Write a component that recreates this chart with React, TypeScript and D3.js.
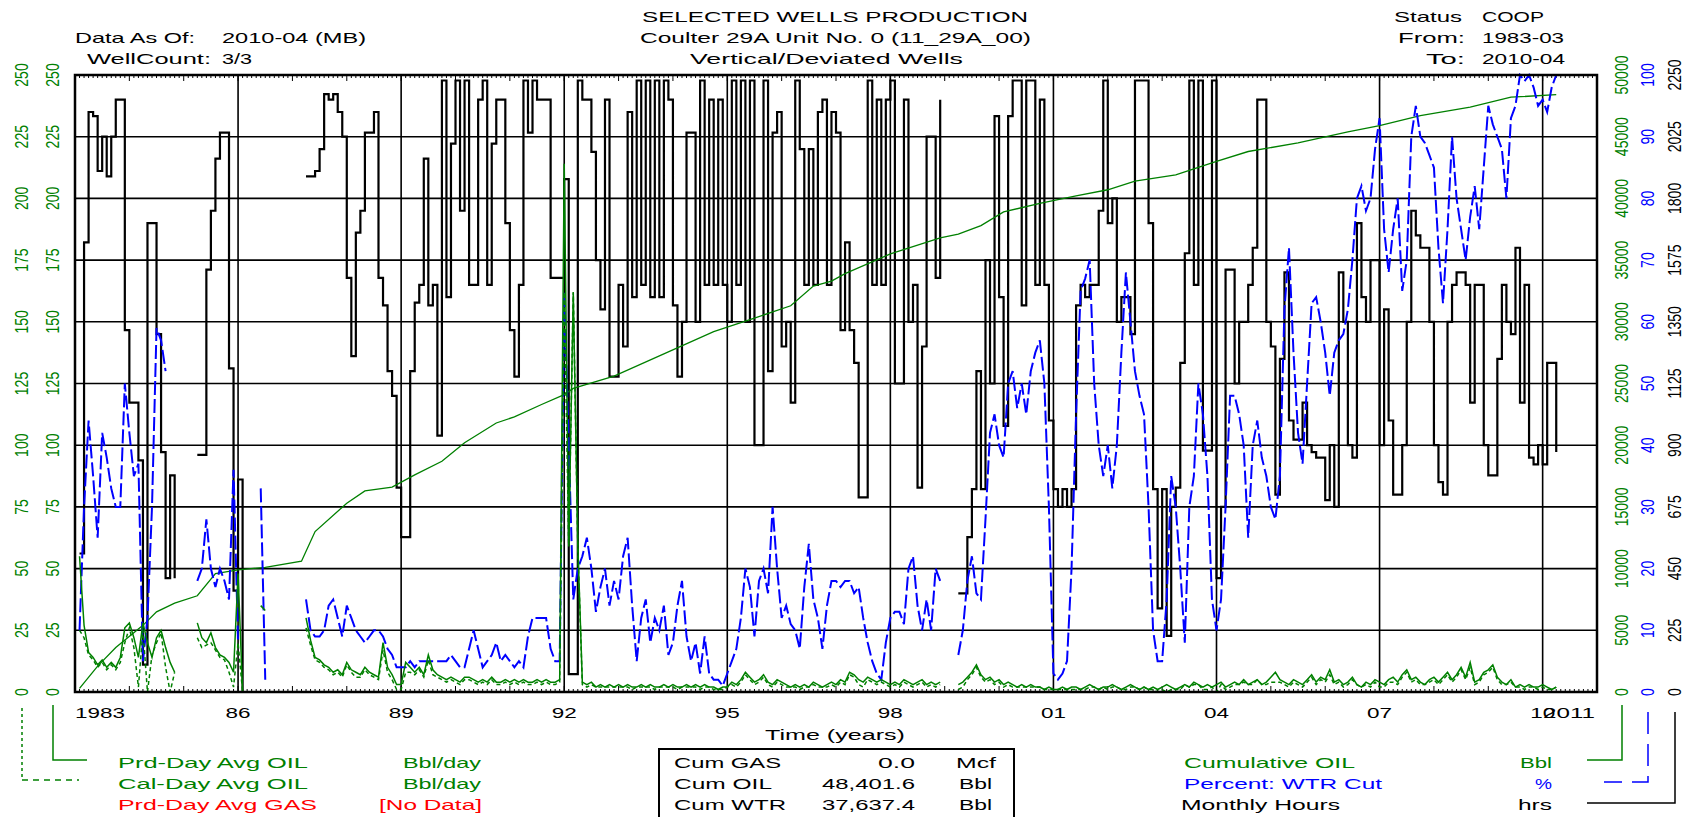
import React from 'react';
import * as d3 from 'd3';

// monthly series, first value is month 1 after Jan 1983
const FIRST_MONTH = 1;

// Monthly Hours (hrs), summed over 3 wells
const monthlyHours = [
  505, 1640, 2115, 2100, 1900, 2025, 1880, 2025, 2160, 2160,
  1320, 1055, 1055, 845, 100, 1710, 1710, 1305, 875, 415,
  790, 415, null, null, null, null, 865, 865, 1540, 1755,
  1945, 2040, 2040, 1180, 370, 775, 0, null, null, null,
  null, 360, null, null, null, null, null, null, null, null,
  1880, 1880, 1900, 1980, 2180, 2160, 2180, 2115, 2025, 1510,
  1225, 1675, 1755, 2040, 2040, 2115, 1510, 1410, 1170, 1080,
  745, 565, 565, 1170, 1420, 1485, 1945, 1410, 1485, 935,
  2230, 1440, 2000, 2230, 1755, 2230, 1485, 1485, 2160, 2230,
  1485, 2000, 2160, 2160, 1710, 1320, 1150, 1485, 2230, 2040,
  2230, 2160, 2160, 2160, 1510, 1510, 1510, 1870, 65, 65,
  2230, 2160, 2160, 1970, 1575, 1395, 2160, 1150, 1150, 1485,
  1260, 2115, 1440, 2230, 1485, 2230, 1440, 2230, 1440, 2230,
  2160, 1410, 1150, 1350, 2040, 2040, 1350, 2230, 1485, 2160,
  1485, 2160, 1485, 1350, 2230, 1485, 2230, 1350, 2230, 900,
  900, 2230, 1170, 2040, 2115, 1260, 1350, 1055, 2230, 1980,
  1485, 1980, 1485, 2115, 2160, 1485, 2115, 2040, 1320, 1640,
  1320, 1200, 710, 710, 2230, 1485, 2160, 1485, 2160, 2230,
  1125, 1125, 2160, 1350, 1485, 745, 1260, 2025, 2025, 1510,
  2160, null, null, null, 360, 360, 565, 740, 1170, 740,
  1575, 1125, 2100, 1440, 970, 2100, 2230, 2230, 1410, 2230,
  2230, 1485, 2160, 1485, 990, 740, 675, 740, 675, 740,
  1410, 1485, 1440, 1485, 1485, 1755, 2230, 1710, 1800, 1350,
  1440, 1440, 1305, 2230, 2230, 2230, 1710, 740, 305, 740,
  205, 675, 745, 1200, 1600, 2230, 1485, 2230, 880, 880,
  2230, 415, 675, 1540, 1540, 1125, 1350, 1350, 1485, 1620,
  2160, 2160, 1350, 1260, 720, 1215, 1530, 990, 920, 920,
  1055, 900, 875, 855, 855, 700, 900, 675, 1530, 1350,
  900, 855, 1710, 1440, 1350, 1575, 1575, 900, 1395, 990,
  720, 720, 900, 1350, 1755, 1665, 1620, 1620, 1350, 900,
  765, 720, 1350, 1485, 1530, 1530, 1485, 1055, 1485, 1485,
  900, 790, 790, 1215, 1485, 1350, 1305, 1620, 1055, 1485,
  855, 830, 900, 830, 1200, 1200, 875,
];

// Percent: WTR Cut (%)
const waterCut = [
  10, 30, 44, 35, 25, 42, 38, 33, 30, 30,
  50, 42, 35, 37, 5, 12, 30, 59, 57, 52,
  null, null, null, null, null, null, 18, 20, 28, 20,
  17, 20, 18, 15, 36, 8, null, null, null, null,
  33, 2, null, null, null, null, null, null, null, null,
  15, 10, 9, 9, 10, 14, 15, 12, 9, 14,
  12, 10, 9, 8, 9, 10, 10, 9, 7, 6,
  4, 4, 4, 5, 4, 5, 5, 5, 5, 5,
  5, 5, 6, 5, 4, 4, 7, 10, 7, 4,
  5, 6, 8, 5, 6, 5, 4, 5, 4, 9,
  12, 12, 12, 12, 7, 5, 5, 65, 40, 15,
  20, 22, 25, 20, 13, 17, 20, 14, 18, 15,
  22, 25, 14, 5, 12, 15, 8, 12, 10, 14,
  6, 8, 14, 18, 9, 5, 8, 3, 9, 3,
  2, 2, 1, 3, 5, 7, 12, 20, 17, 9,
  18, 20, 16, 30, 20, 12, 14, 11, 10, 7,
  17, 24, 15, 12, 7, 14, 18, 18, 17, 18,
  18, 16, 17, 12, 8, 5, 3, 2, 8, 12,
  13, 13, 11, 20, 22, 14, 10, 15, 10, 20,
  18, null, null, null, 6, 10, 18, 22, 16, 15,
  28, 42, 45, 40, 38, 50, 52, 46, 50, 45,
  52, 55, 57, 50, 30, 3, 2, 3, 5, 20,
  45, 65, 67, 70, 50, 40, 35, 40, 33, 40,
  55, 68, 60, 52, 48, 45, 30, 10, 5, 5,
  15, 35, 30, 20, 8, 30, 35, 50, 45, 35,
  15, 10, 15, 30, 48, 48, 45, 40, 25, 40,
  44, 38, 35, 30, 28, 35, 62, 72, 55, 42,
  37, 50, 63, 64, 60, 55, 48, 55, 57, 58,
  62, 70, 80, 82, 78, 80, 88, 93, 75, 68,
  75, 80, 65, 70, 90, 95, 90, 89, 87, 85,
  72, 63, 75, 90, 80, 75, 70, 77, 82, 75,
  85, 95, 92, 90, 88, 80, 93, 95, 100, 99,
  100, 98, 95, 96, 94, 98, 100,
];

// Prd-Day Avg OIL (Bbl/day)
const prdDayOil = [
  55, 27, 16, 14, 11, 13, 10, 12, 10, 14,
  26, 28, 22, 14, 28, 20, 14, 22, 25, 18,
  12, 8, null, null, null, null, 28, 22, 20, 24,
  18, 15, 14, 12, 8, 48, 0, null, null, null,
  35, 33, null, null, null, null, null, null, null, null,
  30, 21, 14, 13, 11, 10, 8, 9, 7, 12,
  9, 8, 7, 10, 8, 7, 6, 20, 10, 7,
  3, 3, 12, 10, 8, 10, 7, 15, 9, 7,
  6, 5, 6, 5, 4, 6, 6, 5, 4, 5,
  4, 6, 4, 4, 5, 4, 5, 4, 5, 4,
  4, 5, 4, 5, 4, 4, 5, 214, 60, 162,
  60, 4, 3, 4, 2, 3, 2, 3, 2, 3,
  2, 3, 2, 2, 3, 2, 3, 2, 2, 3,
  2, 3, 2, 2, 3, 2, 3, 2, 3, 2,
  2, 1, 2, 2, 4, 3, 5, 8, 6, 4,
  5, 7, 4, 3, 5, 4, 3, 2, 3, 2,
  3, 2, 4, 3, 2, 3, 4, 3, 5, 4,
  8, 7, 5, 4, 6, 5, 4, 5, 4, 3,
  4, 3, 5, 4, 3, 4, 5, 3, 4, 3,
  4, null, null, null, 3, 4, 6, 8, 11, 7,
  5, 6, 4, 5, 3, 4, 3, 2, 3, 2,
  3, 2, 2, 1, 2, 1, 1, 2, 1, 2,
  2, 1, 2, 3, 2, 1, 2, 2, 3, 2,
  1, 2, 3, 2, 1, 2, 1, 2, 1, 2,
  3, 2, 1, 2, 3, 2, 4, 3, 2, 3,
  2, 3, 4, 2, 3, 4, 3, 5, 3, 4,
  5, 3, 4, 6, 8, 5, 4, 3, 5, 4,
  3, 5, 7, 4, 6, 5, 9, 4, 5, 3,
  4, 6, 3, 2, 4, 3, 5, 4, 3, 5,
  6, 4, 7, 9, 5, 6, 4, 3, 5, 6,
  4, 6, 8, 5, 7, 10, 6, 12, 4, 5,
  8, 9, 11, 6, 4, 3, 5, 2, 3, 2,
  3, 2, 2, 3, 2, 1, 2,
];

// Cal-Day Avg OIL (Bbl/day)
const calDayOil = [
  25, 22, 15, 13, 10, 12, 9, 11, 9, 12,
  20, 26, 18, 2, 25, 0, 15, 20, 24, 10,
  0, 8, null, null, null, null, 22, 18, 19, 20,
  17, 14, 13, 8, 2, 20, 0, null, null, null,
  null, null, null, null, null, null, null, null, null, null,
  26, 19, 13, 12, 10, 9, 7, 8, 6, 11,
  8, 6, 6, 9, 7, 6, 5, 17, 8, 5,
  1, 1, 8, 8, 7, 9, 6, 13, 7, 6,
  5, 4, 5, 4, 3, 5, 5, 4, 3, 4,
  3, 5, 3, 3, 4, 3, 4, 3, 4, 3,
  3, 4, 3, 4, 3, 3, 4, 162, 59, 162,
  59, 3, 2, 3, 2, 2, 2, 2, 2, 2,
  2, 2, 1, 2, 2, 2, 2, 1, 2, 2,
  2, 2, 1, 2, 2, 2, 2, 1, 2, 2,
  1, 1, 1, 2, 3, 2, 4, 7, 5, 3,
  4, 6, 3, 2, 4, 3, 2, 2, 2, 1,
  2, 2, 3, 2, 2, 2, 3, 2, 4, 3,
  7, 6, 3, 2, 5, 4, 3, 4, 3, 2,
  3, 2, 4, 3, 2, 3, 4, 2, 3, 2,
  3, null, null, null, 1, 2, 5, 7, 10, 6,
  4, 5, 3, 4, 2, 3, 2, 2, 2, 2,
  2, 2, 2, 1, 1, 1, 1, 1, 1, 1,
  1, 1, 1, 2, 2, 1, 2, 1, 2, 2,
  1, 1, 2, 2, 1, 2, 1, 1, 0, 1,
  0, 1, 1, 1, 3, 2, 3, 3, 1, 1,
  2, 0, 3, 1, 2, 3, 3, 4, 3, 3,
  5, 3, 3, 4, 4, 4, 3, 2, 4, 3,
  2, 4, 6, 3, 5, 4, 7, 3, 4, 2,
  3, 5, 3, 2, 3, 2, 4, 2, 2, 4,
  4, 3, 6, 8, 4, 5, 3, 3, 4, 5,
  3, 5, 7, 4, 6, 9, 5, 10, 3, 4,
  7, 8, 10, 5, 3, 3, 4, 2, 2, 1,
  2, 2, 1, 2, 1, 1, 2,
];

// Cumulative OIL (Bbl), read at these months
const cumMonths = [1, 5, 9, 15, 18, 22, 27, 31, 36, 42, 50, 53, 60, 64, 70, 75, 81, 86, 93, 97, 103, 108, 110, 119, 130, 141, 150, 158, 163, 167, 170, 180, 191, 195, 200, 205, 213, 221, 228, 234, 243, 252, 259, 270, 281, 288, 297, 308, 317, 327];
const cumOil = [300, 2100, 3600, 5400, 6500, 7200, 7800, 9600, 9900, 10100, 10600, 13000, 15300, 16300, 16600, 17600, 18700, 20200, 21800, 22300, 23300, 24100, 24600, 25600, 27400, 29200, 30300, 31300, 32900, 33300, 33900, 35500, 36800, 37100, 37800, 38900, 39600, 40200, 40700, 41400, 41900, 43000, 43800, 44500, 45400, 45900, 46700, 47400, 48200, 48402];

const oilTicks = [0, 25, 50, 75, 100, 125, 150, 175, 200, 225, 250];
const cumTicks = [0, 5000, 10000, 15000, 20000, 25000, 30000, 35000, 40000, 45000, 50000];
const cutTicks = [0, 10, 20, 30, 40, 50, 60, 70, 80, 90, 100];
const hourTicks = [0, 225, 450, 675, 900, 1125, 1350, 1575, 1800, 2025, 2250];
const yearTicks = [1986, 1989, 1992, 1995, 1998, 2001, 2004, 2007, 2010];
const yearLabels = ['86', '89', '92', '95', '98', '01', '04', '07', '10'];

const GREEN = '#008000';
const BLUE = '#0000ff';
const RED = '#ff0000';
const FONT = '"Liberation Sans", Arial, Helvetica, sans-serif';

const L = 75, R = 1597, T = 75, B = 692;
// x positions of the rotated axis label columns
const COL_OIL_A = 22, COL_OIL_B = 53, COL_CUM = 1622, COL_CUT = 1648, COL_HRS = 1675;

const x = d3.scaleLinear().domain([1983, 2011]).range([L, R]);
const mx = (m: number) => x(1983 + m / 12);
const yOil = d3.scaleLinear().domain([0, 250]).range([B, T]);
const yCum = d3.scaleLinear().domain([0, 50000]).range([B, T]);
const yCut = d3.scaleLinear().domain([0, 100]).range([B, T]);
const yHrs = d3.scaleLinear().domain([0, 2250]).range([B, T]);

type Pt = { m: number; v: number | null };
const monthly = (arr: (number | null)[]): Pt[] => arr.map((v, i) => ({ m: FIRST_MONTH + i, v }));

const seriesPath = (arr: (number | null)[], y: d3.ScaleLinear<number, number>, curve: d3.CurveFactory = d3.curveLinear) =>
  d3.line<Pt>()
    .defined(d => d.v !== null)
    .x(d => mx(d.m))
    .y(d => y(d.v as number))
    .curve(curve)(monthly(arr)) || '';

const cumPath = d3.line<number>()
  .x((_, i) => mx(cumMonths[i]))
  .y(d => yCum(d))(cumOil) || '';

const Txt = ({ x, y, w, anchor = 'start', fill = '#000', size = 15, children }: any) => (
  <text x={x} y={y} textLength={w} lengthAdjust="spacingAndGlyphs" textAnchor={anchor} fill={fill} fontSize={size}>
    {children}
  </text>
);

const VLabel = ({ x, y, fill, children }: any) => (
  <text
    transform={`translate(${x},${y}) rotate(-90) scale(1,1.35)`}
    textAnchor="middle"
    dominantBaseline="central"
    fill={fill}
    fontSize={14}
  >
    {children}
  </text>
);

export default function App() {
  const months = d3.range(0, 337);

  return (
    <svg width={1690} height={817} style={{ position: 'absolute', left: 0, top: 0, background: '#fff' }} fontFamily={FONT}>
      <defs>
        <clipPath id="plot">
          <rect x={L} y={T - 2} width={R - L} height={B - T + 2} />
        </clipPath>
      </defs>
      <rect x={0} y={0} width={1690} height={817} fill="#fff" />

      {/* header */}
      <Txt x={642} y={22} w={386}>SELECTED WELLS PRODUCTION</Txt>
      <Txt x={640} y={43} w={391}>Coulter 29A Unit No. 0 (11_29A_00)</Txt>
      <Txt x={690} y={64} w={273}>Vertical/Deviated Wells</Txt>
      <Txt x={75} y={43} w={120}>Data As Of:</Txt>
      <Txt x={222} y={43} w={144}>2010-04 (MB)</Txt>
      <Txt x={87} y={64} w={124}>WellCount:</Txt>
      <Txt x={222} y={64} w={30}>3/3</Txt>
      <Txt x={1394} y={22} w={68}>Status</Txt>
      <Txt x={1482} y={22} w={62}>COOP</Txt>
      <Txt x={1398} y={43} w={67}>From:</Txt>
      <Txt x={1482} y={43} w={82}>1983-03</Txt>
      <Txt x={1426} y={64} w={39}>To:</Txt>
      <Txt x={1482} y={64} w={83}>2010-04</Txt>

      {/* grid */}
      {oilTicks.slice(1, -1).map(t => (
        <line key={'h' + t} x1={L} x2={R} y1={yOil(t)} y2={yOil(t)} stroke="#000" strokeWidth={1.6} />
      ))}
      {yearTicks.map(t => (
        <line key={'v' + t} x1={x(t)} x2={x(t)} y1={T} y2={B} stroke="#000" strokeWidth={1.6} />
      ))}

      {/* month ticks top and bottom */}
      {months.map(m => {
        const len = m % 12 === 0 ? 6 : 3;
        const xx = mx(m);
        return (
          <g key={'t' + m}>
            <line x1={xx} x2={xx} y1={B} y2={B - len} stroke="#000" strokeWidth={1} />
            <line x1={xx} x2={xx} y1={T} y2={T + len} stroke="#000" strokeWidth={1} />
          </g>
        );
      })}

      {/* series */}
      <g clipPath="url(#plot)" fill="none">
        <path d={seriesPath(monthlyHours, yHrs, d3.curveStepAfter)} stroke="#000" strokeWidth={2.2} />
        <path d={cumPath} stroke={GREEN} strokeWidth={1.3} />
        <path d={seriesPath(waterCut, yCut)} stroke={BLUE} strokeWidth={2} strokeDasharray="14,4" />
        <path d={seriesPath(calDayOil, yOil)} stroke={GREEN} strokeWidth={1.5} strokeDasharray="4,3" />
        <path d={seriesPath(prdDayOil, yOil)} stroke={GREEN} strokeWidth={1.5} />
      </g>

      {/* frame */}
      <rect x={L} y={T} width={R - L} height={B - T} fill="none" stroke="#000" strokeWidth={2.5} />

      {/* left axes */}
      {oilTicks.map(t => (
        <g key={'l' + t}>
          <VLabel x={COL_OIL_A} y={yOil(t)} fill={GREEN}>{t}</VLabel>
          <VLabel x={COL_OIL_B} y={yOil(t)} fill={GREEN}>{t}</VLabel>
        </g>
      ))}
      {/* right axes */}
      {cumTicks.map(t => <VLabel key={'c' + t} x={COL_CUM} y={yCum(t)} fill={GREEN}>{t}</VLabel>)}
      {cutTicks.map(t => <VLabel key={'w' + t} x={COL_CUT} y={yCut(t)} fill={BLUE}>{t}</VLabel>)}
      {hourTicks.map(t => <VLabel key={'r' + t} x={COL_HRS} y={yHrs(t)} fill="#000">{t}</VLabel>)}

      {/* x labels */}
      <Txt x={L} y={718} w={50}>1983</Txt>
      {yearTicks.map((t, i) => (
        <Txt key={'x' + t} x={x(t)} y={718} w={25} anchor="middle">{yearLabels[i]}</Txt>
      ))}
      <Txt x={R - 2} y={718} w={52} anchor="end">2011</Txt>
      <Txt x={765} y={740} w={140}>Time (years)</Txt>

      {/* left legend */}
      <path d={`M${COL_OIL_A},708 V780`} stroke={GREEN} strokeWidth={1.5} strokeDasharray="3,3" fill="none" />
      <path d={`M${COL_OIL_A},780 H79`} stroke={GREEN} strokeWidth={1.5} strokeDasharray="6,5" fill="none" />
      <path d={`M${COL_OIL_B},705 V760 H87`} stroke={GREEN} strokeWidth={1.5} fill="none" />
      <Txt x={118} y={768} w={190} fill={GREEN}>Prd-Day Avg OIL</Txt>
      <Txt x={403} y={768} w={78} fill={GREEN}>Bbl/day</Txt>
      <Txt x={118} y={789} w={190} fill={GREEN}>Cal-Day Avg OIL</Txt>
      <Txt x={403} y={789} w={78} fill={GREEN}>Bbl/day</Txt>
      <Txt x={118} y={810} w={199} fill={RED}>Prd-Day Avg GAS</Txt>
      <Txt x={379} y={810} w={103} fill={RED}>[No Data]</Txt>

      {/* cumulative box */}
      <rect x={659} y={749} width={355} height={80} fill="none" stroke="#000" strokeWidth={2} />
      <Txt x={674} y={768} w={107}>Cum GAS</Txt>
      <Txt x={915} y={768} w={37} anchor="end">0.0</Txt>
      <Txt x={956} y={768} w={40}>Mcf</Txt>
      <Txt x={674} y={789} w={98}>Cum OIL</Txt>
      <Txt x={915} y={789} w={93} anchor="end">48,401.6</Txt>
      <Txt x={959} y={789} w={33}>Bbl</Txt>
      <Txt x={674} y={810} w={112}>Cum WTR</Txt>
      <Txt x={915} y={810} w={93} anchor="end">37,637.4</Txt>
      <Txt x={959} y={810} w={33}>Bbl</Txt>

      {/* right legend */}
      <path d={`M${COL_CUM},705 V760 H1587`} stroke={GREEN} strokeWidth={1.5} fill="none" />
      <path d={`M${COL_CUT},712 V782 H1604`} stroke={BLUE} strokeWidth={1.5} strokeDasharray="22,10" fill="none" />
      <path d={`M${COL_HRS},712 V803 H1587`} stroke="#000" strokeWidth={1.5} fill="none" />
      <Txt x={1184} y={768} w={171} fill={GREEN}>Cumulative OIL</Txt>
      <Txt x={1552} y={768} w={32} anchor="end" fill={GREEN}>Bbl</Txt>
      <Txt x={1184} y={789} w={198} fill={BLUE}>Percent: WTR Cut</Txt>
      <Txt x={1552} y={789} w={17} anchor="end" fill={BLUE}>%</Txt>
      <Txt x={1181} y={810} w={159}>Monthly Hours</Txt>
      <Txt x={1552} y={810} w={34} anchor="end">hrs</Txt>
    </svg>
  );
}
